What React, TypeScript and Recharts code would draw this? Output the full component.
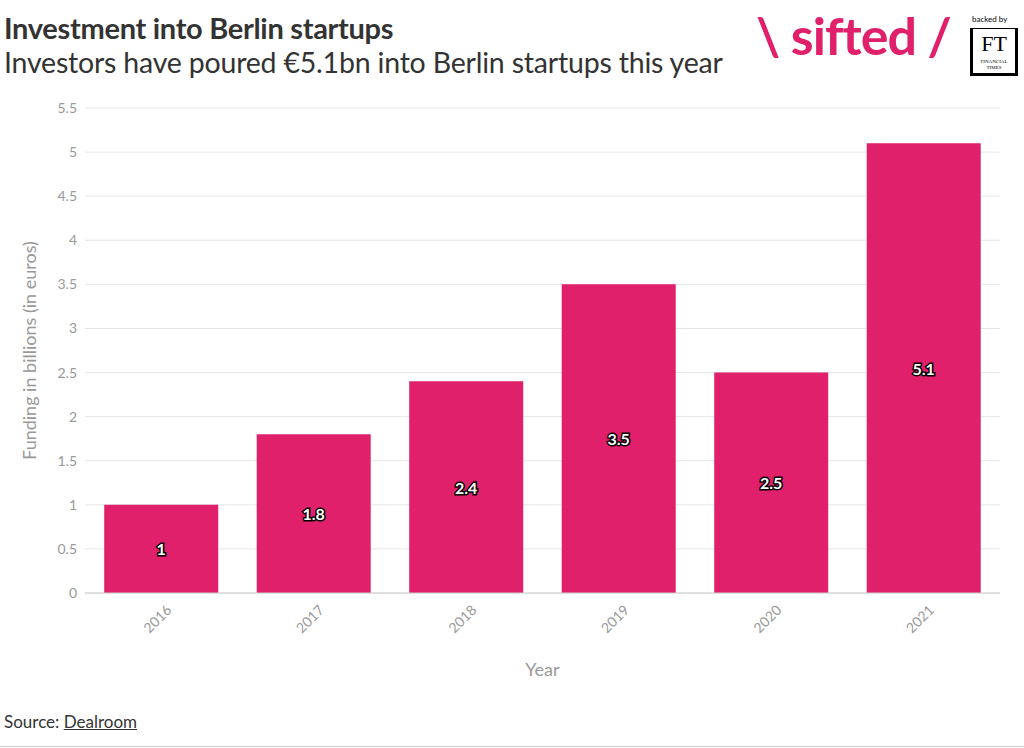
import React from "react";
import { BarChart, Bar, XAxis, YAxis, CartesianGrid, LabelList } from "recharts";

const years = ["2016", "2017", "2018", "2019", "2020", "2021"];
const funding = [1, 1.8, 2.4, 3.5, 2.5, 5.1];
const yTicks = [0, 0.5, 1, 1.5, 2, 2.5, 3, 3.5, 4, 4.5, 5, 5.5];

const data = years.map((y, i) => ({ year: y, value: funding[i] }));
const FONT = "Lato, 'Open Sans', sans-serif";

const CenterLabel = (props: any) => {
  const { x, y, width, height, value } = props;
  return (
    <text x={x + width / 2} y={y + height / 2} textAnchor="middle" dominantBaseline="central"
      fontFamily={FONT} fontSize={16} fontWeight={700} fill="#fff" stroke="#000" strokeWidth={3}
      paintOrder="stroke">{value}</text>
  );
};

const XTick = (props: any) => {
  const { x, y, payload } = props;
  return (
    <text x={x} y={y + 10} textAnchor="end" transform={`rotate(-45 ${x} ${y + 10})`}
      fontFamily={FONT} fontSize={14} fill="#999" dx={8} dy={8}>{payload.value}</text>
  );
};

export default function App() {
  return (
    <div style={{ position: "absolute", left: 0, top: 0, width: 1024, height: 748, background: "#fff", fontFamily: FONT }}>
      <div style={{ position: "absolute", left: 4, top: 10, fontSize: 29, fontWeight: 700, color: "#333", letterSpacing: -0.3 }}>Investment into Berlin startups</div>
      <div style={{ position: "absolute", left: 4, top: 45, fontSize: 28.5, color: "#333", letterSpacing: -0.2 }}>Investors have poured €5.1bn into Berlin startups this year</div>
      <div style={{ position: "absolute", left: 756, top: 4, fontSize: 52, color: "#e0206a", fontWeight: 700, letterSpacing: -1 }}>\ sifted /</div>
      <div style={{ position: "absolute", left: 972, top: 14, fontSize: 8, color: "#000" }}>backed by</div>
      <div style={{ position: "absolute", left: 970, top: 28, width: 46, height: 46, background: "#000", border: "1px solid #000" }}>
        <div style={{ background: "#fff", margin: "0 2px", height: 44, textAlign: "center", fontFamily: "serif", fontSize: 22, lineHeight: "30px" }}>FT<div style={{ fontSize: 5, lineHeight: "6px" }}>FINANCIAL TIMES</div></div>
      </div>
      <div style={{ position: "absolute", top: 0, left: 0 }}>
        <BarChart width={1024} height={700} data={data} margin={{ top: 108, right: 24, bottom: 0, left: 0 }} barCategoryGap="12.6%">
          <CartesianGrid vertical={false} stroke="#e6e6e6" />
          <XAxis dataKey="year" height={107} tick={<XTick />} tickLine={false} axisLine={{ stroke: "#ccc" }}
            label={{ value: "Year", position: "insideBottom", offset: 24, fill: "#999", fontSize: 18, fontFamily: FONT }} />
          <YAxis width={85} domain={[0, 5.5]} ticks={yTicks} interval={0} tickLine={false} axisLine={false}
            tick={{ fill: "#999", fontSize: 14, fontFamily: FONT }}
            label={{ value: "Funding in billions (in euros)", angle: -90, position: "insideLeft", offset: 30, fill: "#999", fontSize: 18, fontFamily: FONT, style: { textAnchor: "middle" } }} />
          <Bar dataKey="value" fill="#e0206a" isAnimationActive={false}>
            <LabelList dataKey="value" content={<CenterLabel />} />
          </Bar>
        </BarChart>
      </div>
      <div style={{ position: "absolute", left: 4, top: 711, fontSize: 17, color: "#333" }}>Source: <span style={{ textDecoration: "underline" }}>Dealroom</span></div>
      <div style={{ position: "absolute", left: 0, top: 746, width: 1024, height: 1, background: "#ccc" }} />
    </div>
  );
}
